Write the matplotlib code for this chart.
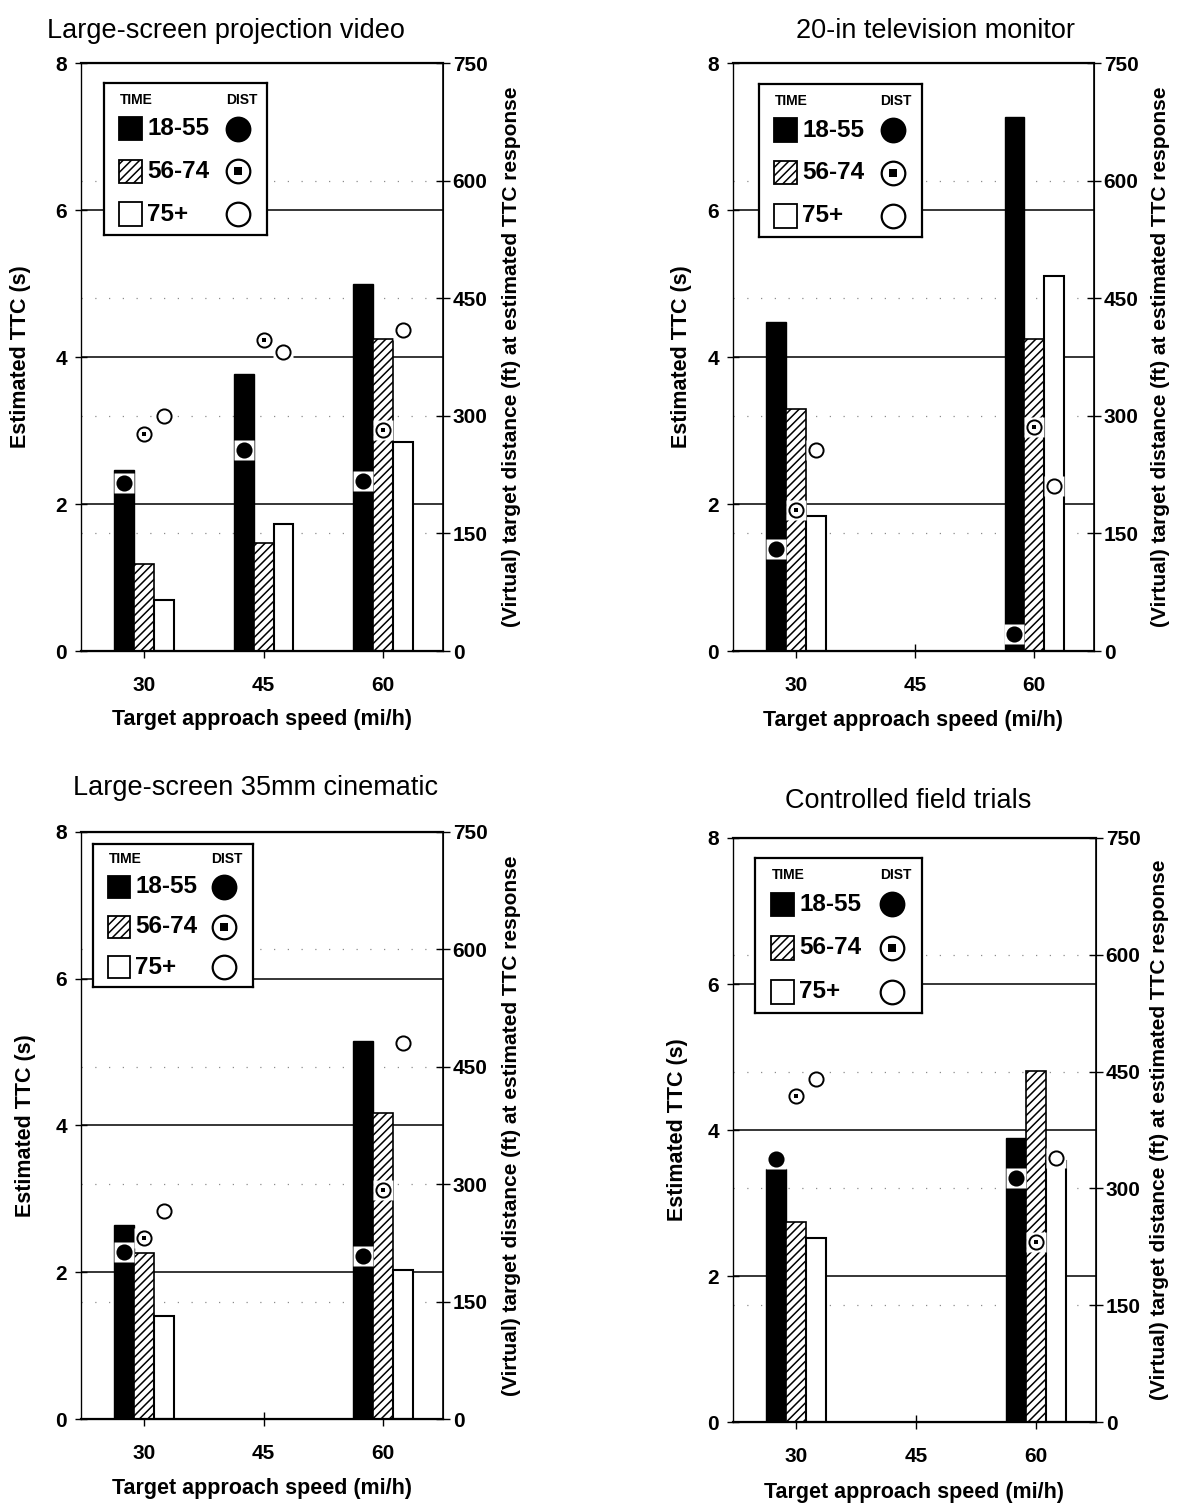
import matplotlib
matplotlib.use('Agg')
import matplotlib.pyplot as plt
from matplotlib.patches import Rectangle

plt.rcParams['font.family'] = ['Liberation Sans', 'DejaVu Sans']
plt.rcParams['hatch.linewidth'] = 1.1

# ---------------- data ----------------
age_groups = ['18-55', '56-74', '75+']
x_ticks = [30, 45, 60]
left_ticks = [0, 2, 4, 6, 8]
right_ticks = [0, 150, 300, 450, 600, 750]
xlabel_text = 'Target approach speed (mi/h)'
ylabel_left = 'Estimated TTC (s)'
ylabel_right = '(Virtual) target distance (ft) at estimated TTC response'

# Large-screen projection video
pv_title = 'Large-screen projection video'
pv_speeds = [30, 45, 60]
pv_ttc_18_55 = [2.46, 3.77, 5.00]
pv_ttc_56_74 = [1.19, 1.47, 4.25]
pv_ttc_75 = [0.69, 1.73, 2.84]
pv_dist_18_55 = [214, 256, 217]
pv_dist_56_74 = [277, 397, 282]
pv_dist_75 = [300, 382, 410]

# 20-in television monitor
tv_title = '20-in television monitor'
tv_speeds = [30, 60]
tv_ttc_18_55 = [4.47, 7.26]
tv_ttc_56_74 = [3.29, 4.25]
tv_ttc_75 = [1.84, 5.10]
tv_dist_18_55 = [130, 22]
tv_dist_56_74 = [180, 286]
tv_dist_75 = [257, 210]

# Large-screen 35mm cinematic
cin_title = 'Large-screen 35mm cinematic'
cin_speeds = [30, 60]
cin_ttc_18_55 = [2.64, 5.15]
cin_ttc_56_74 = [2.26, 4.17]
cin_ttc_75 = [1.40, 2.03]
cin_dist_18_55 = [213, 208]
cin_dist_56_74 = [231, 292]
cin_dist_75 = [266, 481]

# Controlled field trials
fld_title = 'Controlled field trials'
fld_speeds = [30, 60]
fld_ttc_18_55 = [3.47, 3.89]
fld_ttc_56_74 = [2.74, 4.81]
fld_ttc_75 = [2.52, 3.58]
fld_dist_18_55 = [338, 313]
fld_dist_56_74 = [419, 231]
fld_dist_75 = [440, 339]

# ---------------- styles ----------------
BAR_W = 2.5
OFFSETS = [-2.5, 0.0, 2.5]
BAR_STYLES = [
    dict(facecolor='black', edgecolor='black', linewidth=1.0),
    dict(facecolor='white', edgecolor='black', linewidth=1.2, hatch='////'),
    dict(facecolor='white', edgecolor='black', linewidth=1.5),
]


def draw_marker(a, xs, ys, k, ms, mew):
    if k == 0:
        a.plot(xs, ys, ls='none', marker='o', ms=ms, mfc='black', mec='black',
               mew=mew, zorder=4)
    elif k == 1:
        a.plot(xs, ys, ls='none', marker='o', ms=ms, mfc='white', mec='black',
               mew=mew, zorder=4)
        a.plot(xs, ys, ls='none', marker='s', ms=ms * 0.33, mfc='black',
               mec='black', mew=0, zorder=5)
    else:
        a.plot(xs, ys, ls='none', marker='o', ms=ms, mfc='white', mec='black',
               mew=mew, zorder=4)


fig = plt.figure(figsize=(11.8, 15.08), dpi=100)


def draw_panel(rect, title, title_pos, speeds, ttcs, dists, legend_rect,
               ylab_x, yrlab_x, xlab_y):
    ax = fig.add_axes(rect)
    ax.set_xlim(22.1, 67.5)
    ax.set_ylim(0, 8)
    ax2 = ax.twinx()
    ax2.set_ylim(0, 750)

    for t in left_ticks[1:-1]:
        ax.axhline(t, color='black', lw=1.1, zorder=0.5)
    for t in right_ticks[1:-1]:
        ax.axhline(t * 8 / 750, color='black', lw=0.9, ls=(0, (1, 10)),
                   zorder=0.5, alpha=0.45)

    for k in range(3):
        xs = [s + OFFSETS[k] for s in speeds]
        ax.bar(xs, ttcs[k], width=BAR_W, zorder=2, **BAR_STYLES[k])
        ax2.plot(xs, dists[k], ls='none', marker='s', ms=14.5, mfc='white',
                 mec='none', zorder=3)
        draw_marker(ax2, xs, dists[k], k, 10.2, 1.4)

    ax.set_xticks(x_ticks, labels=[str(v) for v in x_ticks],
                  fontsize=15, fontweight='bold')
    ax.set_yticks(left_ticks, labels=[str(v) for v in left_ticks],
                  fontsize=15, fontweight='bold')
    ax2.set_yticks(right_ticks, labels=[str(v) for v in right_ticks],
                   fontsize=15, fontweight='bold')
    ax.tick_params(axis='x', direction='inout', length=10, width=1, pad=13)
    ax.tick_params(axis='y', direction='inout', length=8, width=1, pad=6)
    ax2.tick_params(axis='y', direction='inout', length=10, width=1, pad=2)

    for sp in ['top', 'bottom']:
        ax2.spines[sp].set_linewidth(1.6)
    ax2.spines['left'].set_linewidth(0.9)
    ax2.spines['right'].set_linewidth(1.2)

    ax.set_xlabel(xlabel_text, fontsize=15.5, fontweight='bold')
    ax.xaxis.set_label_coords(0.5, xlab_y)
    ax.xaxis.label.set_verticalalignment('center')
    ax.set_ylabel(ylabel_left, fontsize=15.5, fontweight='bold')
    ax.yaxis.set_label_coords(ylab_x, 0.5)
    ax.yaxis.label.set_verticalalignment('center')
    ax2.set_ylabel(ylabel_right, fontsize=15, fontweight='bold', rotation=90)
    ax2.yaxis.set_label_coords(yrlab_x, 0.5)
    ax2.yaxis.label.set_verticalalignment('center')

    ax.text(title_pos[0], title_pos[1], title, transform=ax.transAxes,
            ha='center', va='baseline', fontsize=19.5)

    # legend box
    lg = ax2.inset_axes(legend_rect)
    lg.set_xlim(0, 1)
    lg.set_ylim(0, 1)
    lg.set_xticks([])
    lg.set_yticks([])
    lg.set_facecolor('white')
    for s in lg.spines.values():
        s.set_linewidth(1.6)
    lg.text(0.10, 0.89, 'TIME', fontsize=10, fontweight='bold',
            ha='left', va='center')
    lg.text(0.937, 0.89, 'DIST', fontsize=10, fontweight='bold',
            ha='right', va='center')
    row_y = [0.70, 0.42, 0.138]
    for k in range(3):
        st = dict(BAR_STYLES[k])
        st['linewidth'] = 1.3
        lg.add_patch(Rectangle((0.092, row_y[k] - 0.076), 0.14, 0.152, **st))
        lg.text(0.265, row_y[k], age_groups[k], fontsize=17.5,
                fontweight='bold', ha='left', va='center')
        draw_marker(lg, [0.819], [row_y[k]], k, 17, 1.6)
    return ax


draw_panel([0.0686, 0.5683, 0.3068, 0.3899], pv_title, (0.40, 1.0425),
           pv_speeds, [pv_ttc_18_55, pv_ttc_56_74, pv_ttc_75],
           [pv_dist_18_55, pv_dist_56_74, pv_dist_75],
           [0.063, 0.7075, 0.452, 0.2585], -0.168, 1.19, -0.116)
draw_panel([0.6212, 0.5683, 0.3059, 0.3899], tv_title, (0.56, 1.0425),
           tv_speeds, [tv_ttc_18_55, tv_ttc_56_74, tv_ttc_75],
           [tv_dist_18_55, tv_dist_56_74, tv_dist_75],
           [0.072, 0.704, 0.452, 0.26], -0.144, 1.183, -0.119)
draw_panel([0.0686, 0.0590, 0.3068, 0.3893], cin_title, (0.482, 1.063),
           cin_speeds, [cin_ttc_18_55, cin_ttc_56_74, cin_ttc_75],
           [cin_dist_18_55, cin_dist_56_74, cin_dist_75],
           [0.033, 0.736, 0.441, 0.244], -0.154, 1.19, -0.118)
draw_panel([0.6212, 0.0570, 0.3076, 0.3873], fld_title, (0.482, 1.051),
           fld_speeds, [fld_ttc_18_55, fld_ttc_56_74, fld_ttc_75],
           [fld_dist_18_55, fld_dist_56_74, fld_dist_75],
           [0.061, 0.700, 0.46, 0.266], -0.152, 1.176, -0.12)

fig.savefig('out.png', dpi=100)
